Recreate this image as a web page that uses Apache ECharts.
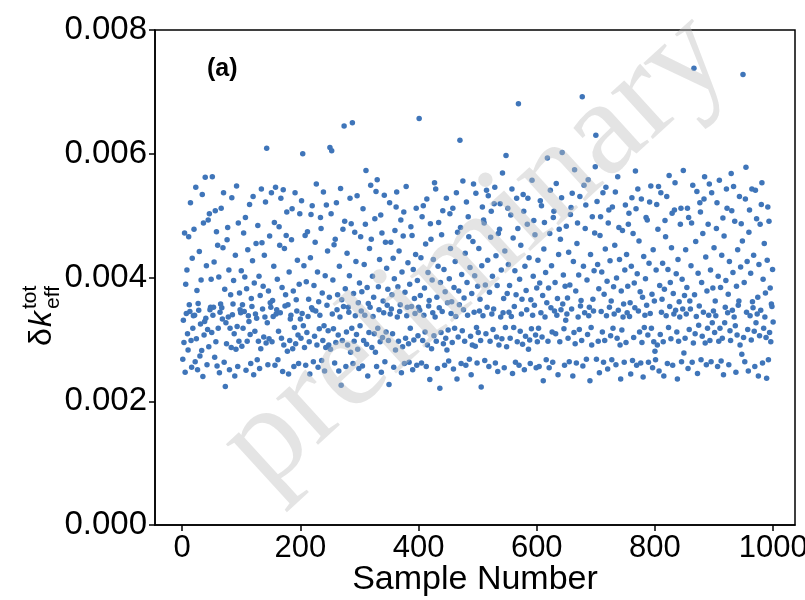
<!DOCTYPE html>
<html>
<head>
<meta charset="utf-8">
<script src="https://cdn.jsdelivr.net/npm/echarts@6/dist/echarts.min.js"></script>
<style>html,body{margin:0;padding:0;background:#fff}#c{width:805px;height:600px}</style>
</head>
<body>
<div id="c"></div>
<script>
// delta k_eff^tot per sample, in units of 1e-5 (sample 1..N)
const valuesE5 = [
268,331,295,472,247,389,342,412,309,283,466,356,345,521,298,255,431,318,338,478,339,264,546,301,379,251,358,347,442,273,325,396,282,534,240,488,307,329,562,334,419,259,316,493,288,503,348,352,397,311,
563,339,352,425,271,508,296,474,257,452,318,401,246,344,357,512,351,333,448,537,263,381,224,327,293,461,481,336,412,251,318,372,287,529,340,357,395,309,241,436,284,548,321,256,488,297,375,348,343,411,
289,356,318,472,345,401,497,250,382,297,445,338,329,518,308,261,366,353,427,531,243,391,313,341,455,334,267,484,297,402,253,371,285,543,456,349,386,304,436,336,522,294,609,327,259,378,301,467,359,352,
537,296,363,337,418,489,258,546,341,348,397,267,313,482,452,343,528,302,384,248,542,291,447,354,372,468,506,281,356,244,409,298,333,339,461,511,285,378,256,319,537,293,364,346,428,307,261,389,503,333,
302,524,342,600,322,419,287,468,258,393,311,474,337,365,296,244,432,502,351,516,348,264,387,305,457,346,551,291,409,255,361,317,339,497,479,266,375,298,538,322,249,403,287,517,355,443,314,291,368,610,
284,503,605,341,396,317,453,262,462,295,521,348,372,307,249,418,336,544,226,364,298,478,353,645,491,382,256,312,439,291,352,344,403,528,279,487,318,650,261,374,297,473,338,426,308,532,284,359,253,391,
322,466,346,377,257,511,298,421,339,486,573,292,384,241,358,311,447,352,549,462,287,402,337,368,309,495,279,539,256,558,318,385,348,429,296,501,247,472,303,362,343,533,264,457,312,415,355,381,298,227,
521,341,457,349,372,309,431,255,398,476,283,514,538,336,385,297,443,345,356,493,246,409,288,467,506,261,376,302,547,338,352,424,293,263,389,318,482,353,468,251,413,299,366,342,437,512,258,395,306,352,
657,347,371,432,262,498,298,516,339,383,312,454,256,527,291,408,354,363,235,487,462,285,396,343,429,306,553,336,543,297,368,253,418,489,351,221,392,311,469,345,508,293,413,258,377,302,528,283,359,315,
265,398,503,447,342,361,295,512,252,384,318,426,337,537,236,473,304,378,356,622,481,261,405,314,556,348,367,297,439,258,522,392,339,498,466,268,416,305,243,374,291,458,551,344,403,289,536,319,262,386,
311,447,346,365,298,223,419,514,338,493,488,266,388,309,541,352,428,532,256,376,297,465,507,341,402,316,349,519,546,262,435,304,387,248,471,291,478,519,336,412,301,569,343,366,254,443,319,597,288,374,
512,421,344,387,302,501,337,543,245,464,319,353,411,263,372,528,296,479,681,258,397,313,452,341,365,292,534,507,251,418,305,379,348,486,528,284,432,299,261,364,317,557,339,402,492,355,469,307,254,383,
296,428,318,256,391,524,343,516,304,371,233,446,489,336,408,267,359,593,297,383,254,471,541,351,419,312,263,497,507,346,392,309,552,339,366,243,437,478,296,462,348,529,602,357,404,317,258,386,331,483,
341,367,302,441,264,388,502,513,349,536,241,426,311,574,293,378,262,455,488,336,404,316,531,354,363,298,692,257,418,549,343,479,517,268,396,308,558,338,352,233,437,319,291,498,365,346,411,472,579,630,
268,523,421,297,382,246,468,498,345,409,312,537,263,373,298,446,546,338,394,252,488,509,352,427,306,362,267,514,318,385,341,452,538,259,399,302,563,347,481,429,291,236,378,315,476,336,357,263,412,517,
295,437,343,386,486,504,337,359,244,418,529,266,471,303,391,351,572,511,258,406,543,346,459,312,377,262,527,295,368,239,434,319,339,398,497,355,493,307,263,423,522,342,548,318,373,254,445,296,362,281,
267,412,518,291,478,547,249,387,308,537,344,365,423,296,241,381,492,466,338,531,261,413,319,565,353,392,301,448,504,258,374,341,509,553,347,406,312,236,429,297,361,336,486,512,264,397,349,573,278,371,
302,445,341,384,512,253,497,316,362,349,419,488,263,549,294,738,372,309,458,337,539,245,407,323,354,521,506,267,392,305,471,344,527,563,294,433,259,378,318,486,339,551,298,412,264,537,327,383,346,448,
311,362,338,479,521,256,402,297,557,318,384,265,436,302,496,243,467,327,352,395,543,512,343,373,259,426,314,298,568,508,347,408,547,336,491,322,247,386,307,445,355,362,531,291,417,487,276,459,728,303,
392,264,527,578,344,426,316,249,473,509,338,407,299,543,361,351,436,313,256,541,327,495,341,368,241,421,306,486,347,518,553,262,397,318,455,336,375,303,237,428,514,267,491,311,383,296,357,353,413,328
];
const xTicks = [0, 200, 400, 600, 800, 1000];
const yTicks = [0.000, 0.002, 0.004, 0.006, 0.008];
const panelLabel = '(a)';
const xName = 'Sample Number';
const watermark = 'preliminary';

const points = valuesE5.map((v, i) => [i + 1, v * 1e-5]);

const chart = echarts.init(document.getElementById('c'), null, {renderer: 'canvas'});
const FONT = 'Liberation Sans, Arial, sans-serif';
chart.setOption({
  animation: false,
  backgroundColor: '#fff',
  grid: {left: 155, top: 30, right: 10, bottom: 75, outerBoundsMode: 'none', containLabel: false,
    show: true, borderColor: '#000', borderWidth: 1.5, backgroundColor: 'transparent'},
  xAxis: {
    type: 'value', min: -46, max: 1037,
    axisLine: {show: true, onZero: false, lineStyle: {color: '#000', width: 1.5}},
    axisTick: {show: true, length: 6, inside: false, lineStyle: {color: '#000', width: 1.5}, customValues: xTicks},
    axisLabel: {customValues: xTicks, color: '#000', fontSize: 31, fontFamily: FONT, margin: 8, formatter: v => String(v)},
    splitLine: {show: false},
    name: xName, nameLocation: 'middle', nameGap: 38, nameMoveOverlap: false,
    nameTextStyle: {color: '#000', fontSize: 34, fontFamily: FONT, verticalAlign: 'top'}
  },
  yAxis: {
    type: 'value', min: yTicks[0], max: yTicks[yTicks.length - 1], interval: 0.002,
    axisLine: {show: true, onZero: false, lineStyle: {color: '#000', width: 1.5}},
    axisTick: {show: true, length: 6, inside: false, lineStyle: {color: '#000', width: 1.5}},
    axisLabel: {color: '#000', fontSize: 33, fontFamily: FONT, margin: 8, formatter: v => v.toFixed(3)},
    splitLine: {show: false}
  },
  series: [{
    type: 'scatter', data: points, symbol: 'circle', symbolSize: 5.5,
    itemStyle: {color: '#3f75b9', opacity: 1}
  }],
  graphic: [
    {type: 'text', left: 207, top: 57, z: 50, style: {text: panelLabel, fontSize: 25, fontWeight: 'bold', fontFamily: FONT, fill: '#000'}},
    {type: 'group', x: 42, y: 296, rotation: Math.PI / 2, z: 50, children: [
      {type: 'text', x: -50, y: 0, style: {text: 'δ', fontSize: 32, fontFamily: FONT, fill: '#000', textVerticalAlign: 'middle', textAlign: 'left'}},
      {type: 'text', x: -31, y: 0, style: {text: 'k', fontSize: 32, fontStyle: 'italic', fontFamily: FONT, fill: '#000', textVerticalAlign: 'middle', textAlign: 'left'}},
      {type: 'text', x: -13, y: -12, style: {text: 'tot', fontSize: 21, fontFamily: FONT, fill: '#000', textVerticalAlign: 'middle', textAlign: 'left'}},
      {type: 'text', x: -13, y: 11, style: {text: 'eff', fontSize: 21, fontFamily: FONT, fill: '#000', textVerticalAlign: 'middle', textAlign: 'left'}}
    ]},
    {type: 'text', x: 476, y: 252, rotation: 0.74, z: 100, silent: true,
      style: {text: watermark, fontSize: 136, fontFamily: 'Liberation Serif, Times New Roman, serif', fill: 'rgba(190,190,190,0.42)', textAlign: 'center', textVerticalAlign: 'middle'}}
  ]
});
</script>
</body>
</html>
